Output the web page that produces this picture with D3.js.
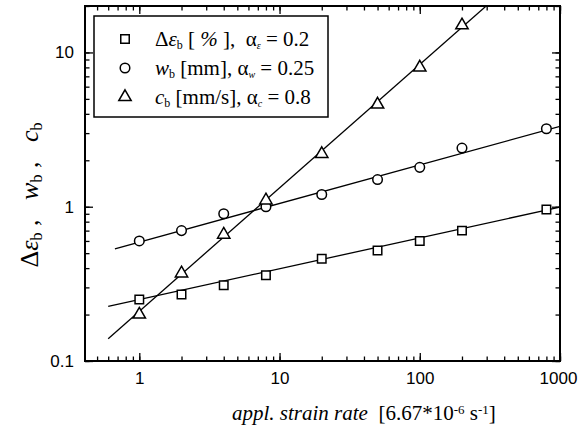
<!DOCTYPE html>
<html>
<head>
<meta charset="utf-8">
<script src="https://cdn.jsdelivr.net/npm/d3@7"></script>
<style>
  body { margin: 0; background: #fff; }
  svg { display: block; }
  svg text { white-space: pre; }
</style>
</head>
<body>
<div id="vis"></div>
<script>
var margin = { top: 6, right: 27, bottom: 77, left: 85 },
    width = 587 - margin.left - margin.right,
    height = 438 - margin.top - margin.bottom;

// strain rates (x) for all series
const rates = [1, 2, 4, 8, 20, 50, 100, 200, 800];
const epsVals = [0.25, 0.27, 0.31, 0.36, 0.46, 0.52, 0.60, 0.70, 0.96];
const wVals = [0.60, 0.70, 0.90, 1.0, 1.2, 1.5, 1.8, 2.4, 3.2];
const cRates = [1, 2, 4, 8, 20, 50, 100, 200];
const cVals = [0.20, 0.37, 0.66, 1.1, 2.2, 4.6, 8.0, 15];

// power-law fits  y = coef * x^alpha
const fitCoef = [0.25, 0.59, 0.21];
const fitAlpha = [0.2, 0.25, 0.8];
const fitFrom = [0.6, 0.67, 0.6];
const fitTo = [1000, 1000, 1000];

const xTicks = [1, 10, 100, 1000];
const yTicks = [0.1, 1, 10];

const svg = d3.select("#vis")
    .append("svg")
    .attr("width", width + margin.left + margin.right)
    .attr("height", height + margin.top + margin.bottom);

const g = svg.append("g")
    .attr("transform", `translate(${margin.left}, ${margin.top})`);

const x = d3.scaleLog().domain([0.41, 1000]).range([0, width]);
const y = d3.scaleLog().domain([0.1, 20]).range([height, 0]);

g.append("clipPath").attr("id", "clip")
    .append("rect").attr("width", width).attr("height", height);

// minor ticks
function minors(scale) {
    const [a, b] = scale.domain();
    const out = [];
    for (let e = -2; e <= 3; e++) {
        for (let m = 1; m <= 9; m++) {
            const v = m * Math.pow(10, e);
            if (v >= a * 0.999 && v <= b * 1.001) out.push(v);
        }
    }
    return out;
}

const fmt = d => String(d);

function addAxis(axis, transform, majors, scale, showLabels) {
    const gMin = g.append("g").attr("transform", transform)
        .call(axis(scale).tickValues(minors(scale)).tickSize(-4.5).tickFormat(""));
    gMin.select(".domain").remove();
    const gMaj = g.append("g").attr("transform", transform)
        .call(axis(scale).tickValues(majors).tickSize(-8).tickPadding(11)
            .tickFormat(showLabels ? fmt : ""));
    gMaj.select(".domain").remove();
    [gMin, gMaj].forEach(s => s.selectAll("line").attr("stroke", "#000").attr("stroke-width", 1.3));
    gMaj.selectAll("text")
        .style("font-family", "'Liberation Sans', Arial, sans-serif")
        .style("font-size", "17px")
        .attr("fill", "#000");
}

addAxis(d3.axisBottom, `translate(0,${height})`, xTicks, x, true);
addAxis(d3.axisTop, "translate(0,0)", xTicks, x, false);
addAxis(d3.axisLeft, "translate(0,0)", yTicks, y, true);
addAxis(d3.axisRight, `translate(${width},0)`, yTicks, y, false);

g.selectAll(".tick text").filter(function () { return this.textContent === "1000"; })
    .attr("dx", "-2");

// frame
g.append("rect")
    .attr("width", width).attr("height", height)
    .attr("fill", "none").attr("stroke", "#000").attr("stroke-width", 2);

// fit lines
const fits = fitCoef.map((c, i) => [fitFrom[i], fitTo[i]].map(v => [v, c * Math.pow(v, fitAlpha[i])]));
g.append("g").attr("clip-path", "url(#clip)")
    .selectAll("line.fit")
    .data(fits)
    .join("line")
    .attr("x1", d => x(d[0][0])).attr("y1", d => y(d[0][1]))
    .attr("x2", d => x(d[1][0])).attr("y2", d => y(d[1][1]))
    .attr("stroke", "#000").attr("stroke-width", 1.3);

// markers
const sym = {
    square: d3.symbol().type(d3.symbolSquare).size(72),
    circle: d3.symbol().type(d3.symbolCircle).size(72),
    triangle: d3.symbol().type(d3.symbolTriangle).size(66)
};

function drawPoints(xs, ys, shape) {
    g.append("g").selectAll("path")
        .data(xs.map((v, i) => [v, ys[i]]))
        .join("path")
        .attr("d", sym[shape])
        .attr("transform", d => `translate(${x(d[0])},${y(d[1])})`)
        .attr("fill", "#fff").attr("stroke", "#000").attr("stroke-width", 1.5);
}
drawPoints(rates, epsVals, "square");
drawPoints(rates, wVals, "circle");
drawPoints(cRates, cVals, "triangle");

// legend
const leg = svg.append("g").attr("transform", "translate(94,16)");
leg.append("rect").attr("width", 234).attr("height", 101)
    .attr("fill", "#fff").attr("stroke", "#000").attr("stroke-width", 1.5);

const serif = "'Liberation Serif', 'Times New Roman', serif";
const legShapes = ["square", "circle", "triangle"];
legShapes.forEach((s, i) => {
    leg.append("path").attr("d", sym[s])
        .attr("transform", `translate(31,${23 + i * 29})`)
        .attr("fill", "#fff").attr("stroke", "#000").attr("stroke-width", 1.5);
});

function rich(parent, parts) {
    parts.forEach(p => {
        const t = parent.append("tspan").text(p.t);
        if (p.i) t.style("font-style", "italic");
        if (p.sub) t.attr("baseline-shift", "-28%").style("font-size", p.fs || "12px");
        if (p.sup) t.attr("baseline-shift", "45%").style("font-size", p.fs || "13px");
    });
}

const legRows = [
    [{ t: "Δ" }, { t: "ε", i: 1 }, { t: "b", sub: 1 }, { t: " [ " }, { t: "%", i: 1 }, { t: " ],  α" }, { t: "ε", sub: 1, i: 1, fs: "10px" }, { t: " = 0.2" }],
    [{ t: "w", i: 1 }, { t: "b", sub: 1 }, { t: " [mm], α" }, { t: "w", sub: 1, i: 1, fs: "10px" }, { t: " = 0.25" }],
    [{ t: "c", i: 1 }, { t: "b", sub: 1 }, { t: " [mm/s], α" }, { t: "c", sub: 1, i: 1, fs: "10px" }, { t: " = 0.8" }]
];
legRows.forEach((parts, i) => {
    const t = leg.append("text")
        .attr("x", 61).attr("y", 30 + i * 29)
        .style("font-family", serif).style("font-size", "21px");
    rich(t, parts);
});

// axis titles
const xt = svg.append("text")
    .attr("x", 232).attr("y", 420)
    .style("font-family", serif).style("font-size", "21px");
rich(xt, [{ t: "appl. strain rate", i: 1 }, { t: "  [6.67*10" }, { t: "-6", sup: 1 }, { t: " s" }, { t: "-1", sup: 1 }, { t: "]" }]);

const yt = svg.append("text")
    .attr("transform", `translate(38,${margin.top + 189}) rotate(-90)`)
    .attr("text-anchor", "middle")
    .style("font-family", serif).style("font-size", "26px");
rich(yt, [{ t: "Δ" }, { t: "ε", i: 1 }, { t: "b", sub: 1, fs: "16px" }, { t: " ,   " }, { t: "w", i: 1 }, { t: "b", sub: 1, fs: "16px" }, { t: " ,   " }, { t: "c", i: 1 }, { t: "b", sub: 1, fs: "16px" }]);
</script>
</body>
</html>
